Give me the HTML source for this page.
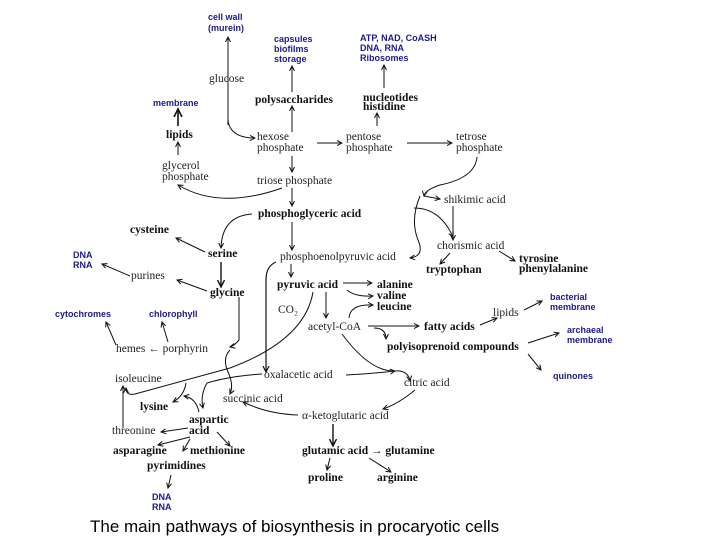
<!DOCTYPE html>
<html><head><meta charset="utf-8"><style>
html,body{margin:0;padding:0;background:#fff}
svg{display:block}
.s{font-family:"Liberation Serif",serif;font-size:11.5px;fill:#222}
.b{font-family:"Liberation Serif",serif;font-size:11.5px;font-weight:bold;fill:#111}
.u{font-family:"Liberation Sans",sans-serif;font-size:9px;font-weight:bold;fill:#1a1a8c}
.c{font-family:"Liberation Sans",sans-serif;font-size:17px;fill:#000}
path,line{stroke:#111;stroke-width:1;fill:none}
</style></head><body>
<svg width="720" height="540" viewBox="0 0 720 540">
<defs><marker id="a" markerWidth="6" markerHeight="6" refX="5" refY="3" orient="auto"><path d="M0,0.5 L5,3 L0,5.5" style="stroke:#111;fill:none;stroke-width:1"/></marker></defs>
<g class="u">
<text x="208" y="20">cell wall</text><text x="208" y="31">(murein)</text>
<text x="274" y="42">capsules</text><text x="274" y="52">biofilms</text><text x="274" y="62">storage</text>
<text x="360" y="41">ATP, NAD, CoASH</text><text x="360" y="51">DNA, RNA</text><text x="360" y="61">Ribosomes</text>
<text x="153" y="106">membrane</text>
<text x="73" y="258">DNA</text><text x="73" y="268">RNA</text>
<text x="55" y="317">cytochromes</text><text x="149" y="317">chlorophyll</text>
<text x="550" y="300">bacterial</text><text x="550" y="310">membrane</text>
<text x="567" y="333">archaeal</text><text x="567" y="343">membrane</text>
<text x="553" y="379">quinones</text>
<text x="152" y="500">DNA</text><text x="152" y="510">RNA</text>
</g>
<g class="s">
<text x="209" y="82">glucose</text>
<text x="257" y="140">hexose</text><text x="257" y="151">phosphate</text>
<text x="346" y="140">pentose</text><text x="346" y="151">phosphate</text>
<text x="456" y="140">tetrose</text><text x="456" y="151">phosphate</text>
<text x="162" y="169">glycerol</text><text x="162" y="180">phosphate</text>
<text x="257" y="184">triose phosphate</text>
<text x="444" y="203">shikimic acid</text>
<text x="437" y="249">chorismic acid</text>
<text x="280" y="260">phosphoenolpyruvic acid</text>
<text x="131" y="279">purines</text>
<text x="278" y="313">CO₂</text>
<text x="493" y="316">lipids</text>
<text x="308" y="330">acetyl-CoA</text>
<text x="116" y="352">hemes ← porphyrin</text>
<text x="115" y="382">isoleucine</text>
<text x="264" y="378">oxalacetic acid</text>
<text x="404" y="386">citric acid</text>
<text x="223" y="402">succinic acid</text>
<text x="302" y="419">α-ketoglutaric acid</text>
<text x="112" y="434">threonine</text>
</g>
<g class="b">
<text x="255" y="103">polysaccharides</text>
<text x="363" y="101">nucleotides</text><text x="363" y="110">histidine</text>
<text x="166" y="138">lipids</text>
<text x="258" y="217">phosphoglyceric acid</text>
<text x="130" y="233">cysteine</text>
<text x="208" y="257">serine</text>
<text x="426" y="273">tryptophan</text>
<text x="519" y="262">tyrosine</text><text x="519" y="272">phenylalanine</text>
<text x="277" y="288">pyruvic acid</text>
<text x="377" y="288">alanine</text><text x="377" y="299">valine</text><text x="377" y="310">leucine</text>
<text x="210" y="296">glycine</text>
<text x="424" y="330">fatty acids</text>
<text x="387" y="350">polyisoprenoid compounds</text>
<text x="140" y="410">lysine</text>
<text x="189" y="423">aspartic</text><text x="189" y="434">acid</text>
<text x="113" y="454">asparagine</text><text x="190" y="454">methionine</text>
<text x="302" y="454">glutamic acid → glutamine</text>
<text x="147" y="469">pyrimidines</text>
<text x="308" y="481">proline</text><text x="377" y="481">arginine</text>
</g>
<g marker-end="url(#a)">
<path d="M228,125 L228,37"/>
<path d="M228,120 Q230,138 255,138"/>
<path d="M292,92 L292,66"/>
<path d="M292,132 L292,106"/>
<path d="M384,88 L384,65"/>
<path d="M377,126 L377,113"/>
<path d="M178,126 L178,109" style="stroke-width:1.6"/>
<path d="M178,155 L178,142"/>
<path d="M317,143 L342,143"/>
<path d="M407,143 L452,143"/>
<path d="M292,156 L292,172"/>
<path d="M292,188 L292,206"/>
<path d="M292,222 L292,250"/>
<path d="M282,188 Q220,210 178,185"/>
<path d="M252,214 Q222,216 221,248"/>
<path d="M205,252 L176,238"/>
<path d="M221,262 L221,287" style="stroke-width:1.4"/>
<path d="M130,276 L102,264"/>
<path d="M207,291 L177,280"/>
<path d="M291,264 L291,277"/>
<path d="M343,283 L372,283"/>
<path d="M347,290 Q355,297 373,296"/>
<path d="M326,292 L326,318"/>
<path d="M349,318 Q350,304 373,305"/>
<path d="M368,326 L419,326"/>
<path d="M374,328 Q386,328 386,339"/>
<path d="M480,325 L497,318"/>
<path d="M524,310 L542,301"/>
<path d="M528,343 L559,333"/>
<path d="M528,354 L541,370"/>
<path d="M453,206 L453,240"/>
<path d="M450,253 L440,264"/>
<path d="M499,251 L515,261"/>
<path d="M424,196 L440,199"/>
<path d="M414,208 Q440,208 453,237"/>
<path d="M420,196 Q410,220 418,240 Q425,256 410,258"/>
<path d="M276,262 Q266,266 266,280 L266,372" style="stroke-width:1.2"/>
<path d="M313,292 Q305,340 230,368 L135,394 Q126,396 126,388"/>
<path d="M123,428 L123,386"/>
<path d="M239,297 L239,340 Q234,346 230,347"/>
<path d="M230,350 Q222,358 228,372 Q234,385 230,394"/>
<path d="M168,342 L162,322"/>
<path d="M116,345 L106,322"/>
<path d="M262,374 Q230,376 207,383 Q200,395 203,408"/>
<path d="M186,383 Q184,396 173,402"/>
<path d="M199,412 Q196,398 184,396"/>
<path d="M342,334 Q370,372 395,371 Q408,370 410,381"/>
<path d="M346,375 Q370,374 395,371"/>
<path d="M415,390 Q398,404 383,409"/>
<path d="M298,415 Q268,414 243,402"/>
<path d="M333,424 L333,446" style="stroke-width:1.4"/>
<path d="M330,458 L327,470"/>
<path d="M369,458 L391,472"/>
<path d="M188,428 L161,432"/>
<path d="M190,437 L158,445"/>
<path d="M190,439 L183,451"/>
<path d="M217,432 L230,446"/>
<path d="M171,475 L168,488"/>
<path d="M477,157 Q475,178 440,185 Q425,190 424,196"/>
</g>
<text class="c" x="90" y="532">The main pathways of biosynthesis in procaryotic cells</text>
</svg>
</body></html>
